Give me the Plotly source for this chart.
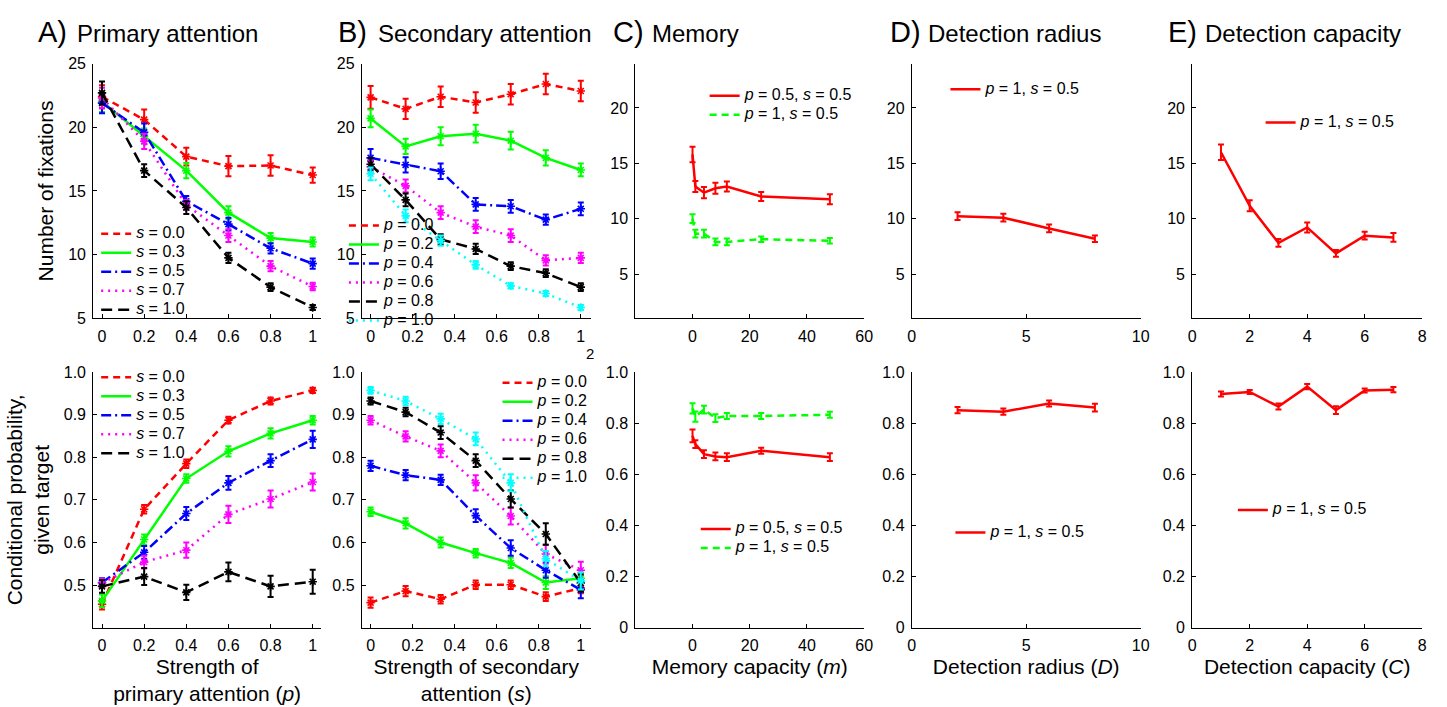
import plotly.graph_objects as go

W, H = 1447, 707
FONT = "Liberation Sans, Arial, Helvetica, sans-serif"

# ---------------- data ----------------
# Panel A: primary attention strength p, series by secondary strength s
A_x = [0, 0.2, 0.4, 0.6, 0.8, 1.0]
A_labels = ["0.0", "0.3", "0.5", "0.7", "1.0"]
A_top_mean = [
    [22.4, 20.6, 17.7, 16.95, 17.0, 16.25],
    [22.0, 19.3, 16.6, 13.3, 11.3, 11.0],
    [21.9, 19.6, 14.2, 12.4, 10.5, 9.3],
    [22.3, 18.9, 13.9, 11.5, 9.1, 7.5],
    [22.7, 16.6, 13.7, 9.75, 7.45, 5.85],
]
A_top_err = [
    [0.9, 0.8, 0.7, 0.8, 0.8, 0.6],
    [0.8, 0.6, 0.6, 0.5, 0.4, 0.35],
    [0.8, 0.7, 0.4, 0.5, 0.4, 0.4],
    [0.8, 0.6, 0.4, 0.5, 0.4, 0.3],
    [0.9, 0.5, 0.5, 0.4, 0.3, 0.2],
]
A_bot_mean = [
    [0.455, 0.678, 0.785, 0.887, 0.932, 0.957],
    [0.463, 0.607, 0.750, 0.814, 0.856, 0.887],
    [0.506, 0.577, 0.668, 0.740, 0.792, 0.842],
    [0.505, 0.554, 0.582, 0.666, 0.702, 0.742],
    [0.497, 0.520, 0.483, 0.531, 0.497, 0.508],
]
A_bot_err = [
    [0.012, 0.010, 0.010, 0.008, 0.008, 0.006],
    [0.015, 0.012, 0.010, 0.012, 0.012, 0.010],
    [0.010, 0.015, 0.015, 0.016, 0.015, 0.020],
    [0.010, 0.015, 0.018, 0.020, 0.020, 0.020],
    [0.015, 0.020, 0.018, 0.022, 0.025, 0.028],
]

# Panel B: secondary attention strength s, series by primary strength p
B_x = [0, 1/6, 2/6, 3/6, 4/6, 5/6, 1.0]
B_labels = ["0.0", "0.2", "0.4", "0.6", "0.8", "1.0"]
B_top_mean = [
    [22.35, 21.45, 22.4, 21.95, 22.6, 23.4, 22.85],
    [20.7, 18.5, 19.3, 19.5, 18.95, 17.6, 16.65],
    [17.6, 17.05, 16.55, 13.95, 13.8, 12.75, 13.6],
    [16.9, 15.4, 13.3, 12.2, 11.5, 9.55, 9.75],
    [17.1, 14.3, 11.2, 10.45, 9.1, 8.55, 7.45],
    [16.35, 13.05, 11.1, 9.2, 7.55, 6.95, 5.85],
]
B_top_err = [
    [0.9, 0.8, 0.8, 0.8, 0.8, 0.8, 0.8],
    [0.7, 0.6, 0.7, 0.7, 0.7, 0.6, 0.5],
    [0.7, 0.6, 0.6, 0.5, 0.5, 0.4, 0.5],
    [0.5, 0.5, 0.5, 0.5, 0.5, 0.4, 0.4],
    [0.5, 0.5, 0.4, 0.4, 0.3, 0.3, 0.3],
    [0.5, 0.5, 0.4, 0.3, 0.2, 0.2, 0.2],
]
B_bot_mean = [
    [0.459, 0.486, 0.467, 0.501, 0.501, 0.473, 0.493],
    [0.672, 0.645, 0.600, 0.575, 0.552, 0.506, 0.516],
    [0.780, 0.758, 0.747, 0.663, 0.587, 0.535, 0.489],
    [0.887, 0.849, 0.815, 0.740, 0.662, 0.573, 0.535],
    [0.932, 0.906, 0.858, 0.792, 0.702, 0.620, 0.505],
    [0.957, 0.932, 0.890, 0.843, 0.740, 0.562, 0.510],
]
B_bot_err = [
    [0.012, 0.012, 0.010, 0.010, 0.010, 0.010, 0.012],
    [0.010, 0.012, 0.012, 0.010, 0.012, 0.015, 0.012],
    [0.012, 0.012, 0.012, 0.015, 0.018, 0.018, 0.020],
    [0.010, 0.012, 0.015, 0.018, 0.020, 0.022, 0.020],
    [0.008, 0.010, 0.015, 0.015, 0.020, 0.025, 0.020],
    [0.008, 0.010, 0.012, 0.015, 0.020, 0.018, 0.020],
]

# Panel C: memory capacity m
C_x = [0, 1, 4, 8, 12, 24, 48]
C_labels = ["<i>p</i> = 0.5, <i>s</i> = 0.5", "<i>p</i> = 1, <i>s</i> = 0.5"]
C_top_mean = [
    [15.8, 12.9, 12.35, 12.75, 12.9, 12.0, 11.75],
    [10.0, 8.65, 8.65, 7.9, 7.9, 8.15, 8.0],
]
C_top_err = [
    [0.7, 0.5, 0.5, 0.5, 0.45, 0.4, 0.45],
    [0.4, 0.35, 0.35, 0.3, 0.3, 0.25, 0.25],
]
C_bot_mean = [
    [0.750, 0.718, 0.679, 0.670, 0.667, 0.692, 0.667],
    [0.858, 0.826, 0.853, 0.820, 0.828, 0.828, 0.833],
]
C_bot_err = [
    [0.025, 0.015, 0.015, 0.015, 0.015, 0.012, 0.015],
    [0.020, 0.020, 0.015, 0.015, 0.012, 0.012, 0.012],
]

# Panel D: detection radius D
D_x = [2, 4, 6, 8]
D_labels = ["<i>p</i> = 1, <i>s</i> = 0.5"]
D_top_mean = [[10.23, 10.09, 9.12, 8.19]]
D_top_err = [[0.35, 0.35, 0.35, 0.3]]
D_bot_mean = [[0.851, 0.845, 0.877, 0.861]]
D_bot_err = [[0.012, 0.012, 0.012, 0.015]]

# Panel E: detection capacity C
E_x = [1, 2, 3, 4, 5, 6, 7]
E_labels = ["<i>p</i> = 1, <i>s</i> = 0.5"]
E_top_mean = [[16.0, 11.17, 7.81, 9.21, 6.87, 8.46, 8.31]]
E_top_err = [[0.7, 0.5, 0.35, 0.45, 0.3, 0.35, 0.4]]
E_bot_mean = [[0.914, 0.922, 0.865, 0.943, 0.851, 0.928, 0.931]]
E_bot_err = [[0.010, 0.008, 0.012, 0.010, 0.015, 0.008, 0.010]]

# ---------------- styles ----------------
RED, GREEN, BLUE, MAG, BLK, CYAN = "#ff0000", "#00ff00", "#0000ff", "#ff00ff", "#000000", "#00ffff"
DASH = "7px,5px"
DASHDOT = "10px,4px,2px,4px"
DOT = "2px,5px"
LONG = "11px,6px"
A_styles = [(RED, DASH), (GREEN, "solid"), (BLUE, DASHDOT), (MAG, DOT), (BLK, LONG)]
B_styles = [(RED, DASH), (GREEN, "solid"), (BLUE, DASHDOT), (MAG, DOT), (BLK, LONG), (CYAN, DOT)]
C_styles = [(RED, "solid"), (GREEN, DASH)]
D_styles = [(RED, "solid")]

# layout geometry in pixels
col_px = [(90, 320), (361, 592), (637, 868), (916, 1147), (1199, 1431)]
row_px = [(57, 318), (373, 635)]


def fx(px):
    return px / W


def fy(py):
    return 1 - py / H


fig = go.Figure()

specs = [
    (1, A_x, A_top_mean, A_top_err, ["<i>s</i> = " + l for l in A_labels], A_styles, True),
    (2, B_x, B_top_mean, B_top_err, ["<i>p</i> = " + l for l in B_labels], B_styles, True),
    (3, C_x, C_top_mean, C_top_err, C_labels, C_styles, False),
    (4, D_x, D_top_mean, D_top_err, D_labels, D_styles, False),
    (5, E_x, E_top_mean, E_top_err, E_labels, D_styles, False),
    (6, A_x, A_bot_mean, A_bot_err, ["<i>s</i> = " + l for l in A_labels], A_styles, True),
    (7, B_x, B_bot_mean, B_bot_err, ["<i>p</i> = " + l for l in B_labels], B_styles, True),
    (8, C_x, C_bot_mean, C_bot_err, C_labels, C_styles, False),
    (9, D_x, D_bot_mean, D_bot_err, D_labels, D_styles, False),
    (10, E_x, E_bot_mean, E_bot_err, E_labels, D_styles, False),
]

LEG_FS = 16
for idx, xs, means, errs, labels, styles, marks, in specs:
    xa = "x" if idx == 1 else f"x{idx}"
    ya = "y" if idx == 1 else f"y{idx}"
    leg = "legend" if idx == 1 else f"legend{idx}"
    for ys, es, lab, (col, dash) in zip(means, errs, labels, styles):
        fig.add_trace(go.Scatter(
            x=xs, y=ys, xaxis=xa, yaxis=ya, mode="lines",
            line=dict(color=col, width=2.5, dash=dash),
            error_y=dict(type="data", array=es, color=col, thickness=2, width=3),
            name=f"<span style='font-size:{LEG_FS}px'>{lab}</span>",
            legend=leg, showlegend=True,
        ))
        if marks:
            fig.add_trace(go.Scatter(
                x=xs, y=ys, xaxis=xa, yaxis=ya, mode="markers",
                marker=dict(symbol="asterisk-open", size=7, color=col,
                            line=dict(color=col, width=1.6)),
                showlegend=False, hoverinfo="skip",
            ))

axis_common = dict(showline=True, linecolor="black", linewidth=1, showgrid=False,
                   zeroline=False, ticks="inside", ticklen=4, tickcolor="black",
                   tickfont=dict(family=FONT, size=16, color="black"), ticklabelstandoff=3)

x_ranges = [[-0.042, 1.04], [-0.042, 1.047], [-20, 60], [0, 10], [0, 8]]
x_ticks = [
    ([0, 0.2, 0.4, 0.6, 0.8, 1], ["0", "0.2", "0.4", "0.6", "0.8", "1"]),
    ([0, 0.2, 0.4, 0.6, 0.8, 1], ["0", "0.2", "0.4", "0.6", "0.8", "1"]),
    ([0, 20, 40, 60], ["0", "20", "40", "60"]),
    ([0, 5, 10], ["0", "5", "10"]),
    ([0, 2, 4, 6, 8], ["0", "2", "4", "6", "8"]),
]
y_top = [
    ([5, 25], [5, 10, 15, 20, 25]),
    ([5, 25], [5, 10, 15, 20, 25]),
    ([1, 24], [5, 10, 15, 20]),
    ([1, 24], [5, 10, 15, 20]),
    ([1, 24], [5, 10, 15, 20]),
]
y_bot_AB = ([0.4, 1.0], [0.5, 0.6, 0.7, 0.8, 0.9, 1.0], ["0.5", "0.6", "0.7", "0.8", "0.9", "1.0"])
y_bot_CDE = ([0, 1.0], [0, 0.2, 0.4, 0.6, 0.8, 1.0], ["0", "0.2", "0.4", "0.6", "0.8", "1.0"])

x_titles = {
    6: "Strength of<br>primary attention (<i>p</i>)",
    7: "Strength of secondary<br>attention (<i>s</i>)",
    8: "Memory capacity (<i>m</i>)",
    9: "Detection radius (<i>D</i>)",
    10: "Detection capacity (<i>C</i>)",
}
y_titles = {1: "Number of fixations", 6: "Conditional probability,<br>given target"}

layout = dict(width=W, height=H, margin=dict(l=0, r=0, t=0, b=0),
              paper_bgcolor="white", plot_bgcolor="white",
              font=dict(family=FONT, color="black"))

for r in range(2):
    for c in range(5):
        idx = r * 5 + c + 1
        sfx = "" if idx == 1 else str(idx)
        xa = dict(axis_common, domain=[fx(col_px[c][0]), fx(col_px[c][1])],
                  anchor="y" + sfx, range=x_ranges[c],
                  tickvals=x_ticks[c][0], ticktext=x_ticks[c][1])
        if r == 0:
            yr, yt = y_top[c]
            ya = dict(axis_common, range=yr, tickvals=yt, ticktext=[str(v) for v in yt])
        else:
            rng, tv, tt = y_bot_AB if c < 2 else y_bot_CDE
            ya = dict(axis_common, range=rng, tickvals=tv, ticktext=tt)
        ya.update(domain=[fy(row_px[r][1]), fy(row_px[r][0])], anchor="x" + sfx)
        if idx in x_titles:
            xa["title"] = dict(text=x_titles[idx], standoff=6,
                               font=dict(family=FONT, size=21, color="black"))
        if idx in y_titles:
            ya["title"] = dict(text=y_titles[idx], standoff=8,
                               font=dict(family=FONT, size=21, color="black"))
        layout["xaxis" + sfx] = xa
        layout["yaxis" + sfx] = ya

# legends: (axis idx, text start px, middle of items px, number of items)
ITEM_H = 19
leg_pos = [
    (1, 133, 269, 5), (6, 133, 416, 5),
    (2, 383, 270, 6), (7, 538, 431, 6),
    (3, 747, 99, 2), (8, 738, 543, 2),
    (4, 990, 83, 1), (9, 995, 537, 1),
    (5, 1308, 117, 1), (10, 1280, 514, 1),
]
for idx, tx, mid, n in leg_pos:
    key = "legend" if idx == 1 else f"legend{idx}"
    first = mid - (n - 1) / 2 * ITEM_H
    top = first - (ITEM_H / 2 + 5)
    layout[key] = dict(x=fx(tx - 40), y=fy(top), xanchor="left", yanchor="top",
                       bgcolor="rgba(0,0,0,0)", borderwidth=0,
                       font=dict(family=FONT, size=11, color="black"),
                       tracegroupgap=0)

fig.update_layout(**layout)

# panel titles
titles = [("A)", "Primary attention", 32, 72), ("B)", "Secondary attention", 335, 375),
          ("C)", "Memory", 612, 652), ("D)", "Detection radius", 892, 930),
          ("E)", "Detection capacity", 1173, 1210)]
for letter, text, lx, tx in titles:
    fig.add_annotation(x=fx(lx), y=fy(25), xref="paper", yref="paper", text=letter,
                       showarrow=False, xanchor="left", yanchor="middle",
                       font=dict(family=FONT, size=29, color="black"))
    fig.add_annotation(x=fx(tx), y=fy(26), xref="paper", yref="paper", text=text,
                       showarrow=False, xanchor="left", yanchor="middle",
                       font=dict(family=FONT, size=24, color="black"))

fig.add_annotation(x=fx(597), y=fy(354), xref="paper", yref="paper", text="2",
                   showarrow=False, xanchor="right", yanchor="middle",
                   font=dict(family=FONT, size=15, color="black"))

fig.write_html("out.html")
